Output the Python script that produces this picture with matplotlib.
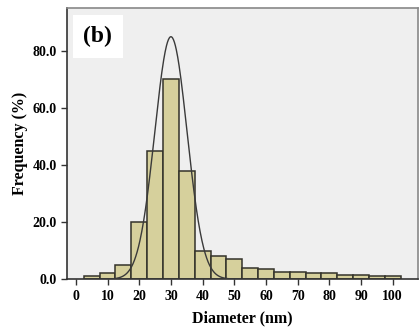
import numpy as np
import matplotlib
matplotlib.use('Agg')
import matplotlib.pyplot as plt

# bin centres (nm) and frequency (%)
centers = [5, 10, 15, 20, 25, 30, 35, 40, 45, 50, 55, 60, 65, 70, 75, 80, 85, 90, 95, 100]
freq = [1.0, 2.0, 5.0, 20.0, 45.0, 70.0, 38.0, 10.0, 8.0, 7.0, 4.0, 3.5, 2.6, 2.4, 2.1, 2.0, 1.6, 1.4, 1.2, 1.0]
xticks = [0, 10, 20, 30, 40, 50, 60, 70, 80, 90, 100]
yticks = [0, 20, 40, 60, 80]

# fitted normal curve parameters
mu = 30.0
sigma = 5.1
peak = 85.0

plt.rcParams['font.family'] = ['Liberation Serif', 'DejaVu Serif']
plt.rcParams['font.weight'] = 'bold'

fig = plt.figure(figsize=(4.2, 3.28), dpi=100)
ax = fig.add_axes([0.1595, 0.149, 0.836, 0.826])
ax.set_facecolor('#efefef')

ax.bar(centers, freq, width=5, color='#d6d09c', edgecolor='#34332a', linewidth=1.1, zorder=2)

xc = np.linspace(8, 52, 300)
ax.plot(xc, peak * np.exp(-(xc - mu) ** 2 / (2 * sigma ** 2)), color='#3a3a3a', lw=1.0, zorder=3)

ax.set_xlim(-2.8, 108)
ax.set_ylim(0, 95)
ax.set_xticks(xticks)
ax.set_yticks(yticks)
ax.set_yticklabels(['%.1f' % v for v in yticks])
ax.tick_params(axis='both', labelsize=10, length=4, width=1.0, color='#333333')
for lab in ax.get_xticklabels() + ax.get_yticklabels():
    lab.set_fontweight('bold')

for s in ['left', 'bottom']:
    ax.spines[s].set_color('#333333')
    ax.spines[s].set_linewidth(1.2)
for s in ['top', 'right']:
    ax.spines[s].set_color('#888888')
    ax.spines[s].set_linewidth(1.2)

ax.set_xlabel('Diameter (nm)', fontsize=11.5, fontweight='bold', labelpad=6)
ax.set_ylabel('Frequency (%)', fontsize=11.5, fontweight='bold', labelpad=3)

ax.text(0.047, 0.935, '(b)', transform=ax.transAxes, fontsize=17, fontweight='bold',
        va='top', ha='left',
        bbox=dict(boxstyle='square,pad=0.45', facecolor='white', edgecolor='none'))

fig.savefig('out.png', dpi=100)
